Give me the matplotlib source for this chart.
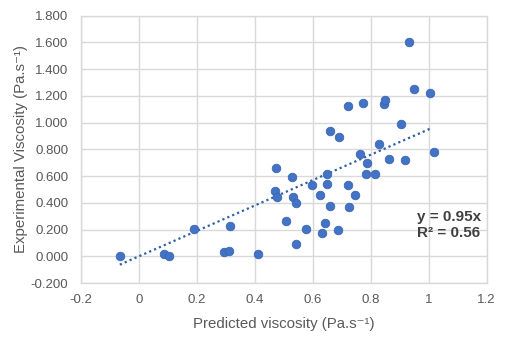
import matplotlib
matplotlib.use("Agg")
from matplotlib import pyplot as plt
import numpy as np

# 预测粘度 / 实测粘度
pred = [-0.066, 0.086, 0.105, 0.191, 0.294, 0.312, 0.314, 0.41,
        0.472, 0.47, 0.475, 0.507, 0.528, 0.53, 0.543, 0.541,
        0.576, 0.598, 0.626, 0.633, 0.641, 0.648, 0.65, 0.659,
        0.659, 0.687, 0.691, 0.72, 0.72, 0.725, 0.747, 0.763,
        0.773, 0.787, 0.784, 0.815, 0.83, 0.845, 0.848, 0.863,
        0.905, 0.917, 0.933, 0.948, 1.003, 1.017]
expv = [0.0, 0.015, 0.0, 0.204, 0.035, 0.04, 0.225, 0.017,
        0.664, 0.491, 0.442, 0.264, 0.592, 0.442, 0.397, 0.092,
        0.202, 0.534, 0.457, 0.175, 0.252, 0.619, 0.539, 0.941,
        0.379, 0.197, 0.891, 0.532, 1.124, 0.369, 0.461, 0.764,
        1.15, 0.701, 0.619, 0.619, 0.841, 1.143, 1.173, 0.729,
        0.989, 0.721, 1.605, 1.255, 1.223, 0.779]
slope = 0.95
r2 = 0.56

plt.rcParams['font.family'] = ['Liberation Sans', 'DejaVu Sans']

grey = '#595959'
grid = '#d9d9d9'
blue = '#4472C4'

fig = plt.figure(figsize=(5.1, 3.4), dpi=100)
ax = fig.add_axes([0.1588, 0.1676, 0.7955, 0.7862])

ax.scatter(pred, expv, s=38, color=blue, edgecolors='#3b67b4', linewidths=0.6, zorder=3)

# 过原点趋势线
xs = np.array([min(pred), 1.007])
ax.plot(xs, slope * xs, color='#2f5fa8', lw=1.6, linestyle=(0, (1, 1.4)), zorder=2)

ax.set_xlim(-0.2, 1.2)
ax.set_ylim(-0.2, 1.8)
xt = np.arange(-0.2, 1.21, 0.2)
ax.set_xticks(xt)
ax.set_xticklabels(['-0.2', '0', '0.2', '0.4', '0.6', '0.8', '1', '1.2'])
yt = np.arange(-0.2, 1.81, 0.2)
ax.set_yticks(yt)
ax.set_yticklabels(['{:.3f}'.format(v) for v in yt])
ax.tick_params(length=0, labelsize=9.5, colors=grey)
ax.tick_params(axis='x', pad=8)
ax.tick_params(axis='y', pad=9)
ax.grid(True, color=grid, lw=1)
ax.set_axisbelow(True)
for sp in ax.spines.values():
    sp.set_color(grid)
    sp.set_linewidth(1)

ax.set_xlabel('Predicted viscosity (Pa.s⁻¹)', fontsize=10.8, color=grey, labelpad=8)
ax.set_ylabel('Experimental Viscosity (Pa.s⁻¹)', fontsize=10.8, color=grey, labelpad=2)

ax.text(0.96, 0.234, 'y = 0.95x\nR² = 0.56', fontsize=11, fontweight='bold',
        color='#404040', ha='left', va='center', linespacing=1.1)

plt.savefig('out.png', dpi=100)
